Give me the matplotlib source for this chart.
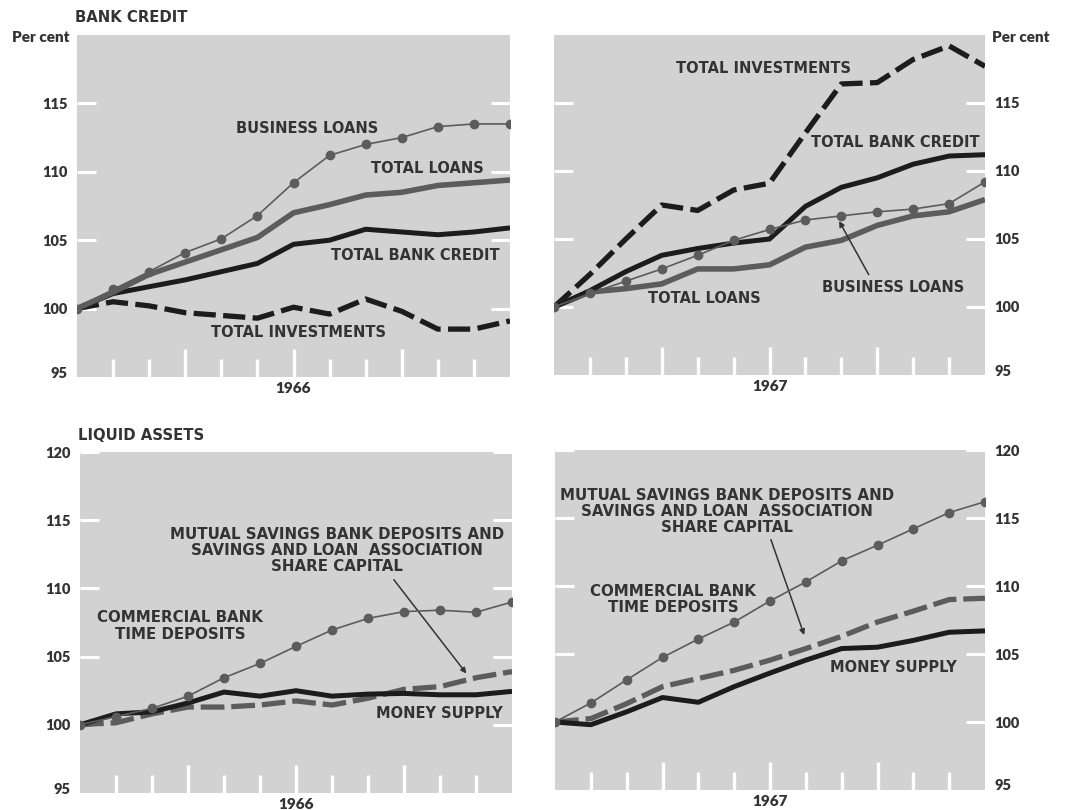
import matplotlib
matplotlib.use("Agg")
import matplotlib.pyplot as plt
import matplotlib.transforms as mtransforms
import numpy as np

plt.rcParams['font.family'] = ['Lato', 'DejaVu Sans']

# months: Dec of prior year = 0 ... Dec = 12
months = list(range(13))

# BANK CREDIT, 1966
bl_66 = [100, 101.4, 102.7, 104.1, 105.1, 106.8, 109.2, 111.2, 112.0, 112.5, 113.3, 113.5, 113.5]
tl_66 = [100, 101.2, 102.5, 103.4, 104.3, 105.2, 107.0, 107.6, 108.3, 108.5, 109.0, 109.2, 109.4]
tbc_66 = [100, 101.1, 101.6, 102.1, 102.7, 103.3, 104.7, 105.0, 105.8, 105.6, 105.4, 105.6, 105.9]
ti_66 = [100, 100.5, 100.2, 99.7, 99.5, 99.3, 100.1, 99.6, 100.7, 99.8, 98.5, 98.5, 99.1]

# BANK CREDIT, 1967
bl_67 = [100, 101.0, 101.9, 102.8, 103.8, 104.9, 105.7, 106.4, 106.7, 107.0, 107.2, 107.6, 109.2]
tl_67 = [100, 101.1, 101.35, 101.7, 102.8, 102.8, 103.1, 104.4, 104.9, 106.0, 106.7, 107.0, 107.9]
tbc_67 = [100, 101.2, 102.6, 103.8, 104.3, 104.7, 105.0, 107.4, 108.8, 109.5, 110.5, 111.1, 111.2]
ti_67 = [100, 102.4, 105.0, 107.5, 107.1, 108.6, 109.1, 112.8, 116.4, 116.5, 118.2, 119.2, 117.7]

# LIQUID ASSETS, 1966
cbtd_66 = [100, 100.6, 101.2, 102.1, 103.45, 104.5, 105.75, 106.95, 107.8, 108.3, 108.4, 108.25, 109.0]
ms_66 = [100, 100.8, 100.95, 101.6, 102.4, 102.1, 102.5, 102.1, 102.25, 102.3, 102.2, 102.2, 102.45]
msb_66 = [100, 100.15, 100.8, 101.3, 101.3, 101.45, 101.75, 101.45, 101.95, 102.6, 102.8, 103.45, 103.9]

# LIQUID ASSETS, 1967
cbtd_67 = [100, 101.4, 103.1, 104.75, 106.1, 107.35, 108.9, 110.3, 111.85, 113.0, 114.2, 115.4, 116.2]
ms_67 = [100, 99.8, 100.75, 101.8, 101.45, 102.6, 103.6, 104.55, 105.4, 105.5, 106.0, 106.6, 106.7]
msb_67 = [100, 100.25, 101.35, 102.6, 103.2, 103.8, 104.55, 105.4, 106.3, 107.35, 108.15, 109.0, 109.1]

PANEL = '#d2d2d2'
BLACK = '#1c1c1c'
GRAY = '#5c5c5c'
TEXT = '#333333'
LABEL_FONT = ['DejaVu Sans']

W, H = 1074, 810
fig = plt.figure(figsize=(W / 100, H / 100), dpi=100)


def make_ax(left, top, right, bottom, side, yticks):
    ax = fig.add_axes([left / W, 1 - bottom / H, (right - left) / W, (bottom - top) / H])
    ax.set_facecolor(PANEL)
    for s in ax.spines.values():
        s.set_visible(False)
    ax.set_xlim(0, 12)
    ax.set_ylim(95, 120)
    ax.set_xticks([3, 6, 9])
    ax.set_xticks([1, 2, 4, 5, 7, 8, 10, 11], minor=True)
    ax.tick_params(axis='x', which='major', direction='in', length=20, width=2.4,
                   color='white', labelbottom=False)
    ax.tick_params(axis='x', which='minor', direction='in', length=13, width=2.4,
                   color='white')
    ax.set_yticks(yticks)
    ax.set_yticklabels([str(v) for v in yticks])
    ax.tick_params(axis='y', direction='in', length=14, width=2.2, color='white',
                   left=True, right=True, labelleft=(side == 'left'),
                   labelright=(side == 'right'), pad=7, labelsize=10.5,
                   labelcolor=TEXT)
    for lab in ax.get_yticklabels():
        lab.set_fontweight('heavy')
    # hide tick at 95 and lift its label a bit
    t0 = ax.yaxis.get_major_ticks()[0]
    t0.tick1line.set_visible(False)
    t0.tick2line.set_visible(False)
    off = mtransforms.ScaledTranslation(0, 5 / 100, fig.dpi_scale_trans)
    t0.label1.set_transform(t0.label1.get_transform() + off)
    t0.label2.set_transform(t0.label2.get_transform() + off)
    return ax


def dotted(ax, y):
    ax.plot(months, y, color=GRAY, lw=1.2, marker='o', ms=6, mfc=GRAY, mec=GRAY, zorder=4)


def thick(ax, y, color, lw=3.6):
    ax.plot(months, y, color=color, lw=lw, solid_capstyle='butt', zorder=3)


def dashed(ax, y, color, dashes=(4.2, 1.4)):
    ax.plot(months, y, color=color, lw=3.8, dashes=dashes, zorder=2)


def label(ax, x, y, s, size=10.5, **kw):
    ax.text(x, y, s, ha='center', va='center', fontsize=size, fontweight='bold',
            family=LABEL_FONT, color=TEXT, linespacing=1.1, **kw)


def year(ax, s):
    ax.text(0.5, -0.015, s, transform=ax.transAxes, ha='center', va='top',
            fontsize=11, fontweight='heavy', color=TEXT)


# top left
ax1 = make_ax(77, 35, 510, 377, 'left', [95, 100, 105, 110, 115])
dashed(ax1, ti_66, BLACK)
thick(ax1, tbc_66, BLACK)
thick(ax1, tl_66, GRAY, lw=4)
dotted(ax1, bl_66)
label(ax1, 6.37, 113.15, 'BUSINESS LOANS')
label(ax1, 9.7, 110.27, 'TOTAL LOANS')
label(ax1, 9.37, 103.86, 'TOTAL BANK CREDIT')
label(ax1, 6.13, 98.25, 'TOTAL INVESTMENTS')
year(ax1, '1966')

# top right
ax2 = make_ax(554, 35, 985, 375, 'right', [95, 100, 105, 110, 115])
dashed(ax2, ti_67, BLACK)
thick(ax2, tl_67, GRAY, lw=4)
thick(ax2, tbc_67, BLACK)
dotted(ax2, bl_67)
label(ax2, 5.82, 117.54, 'TOTAL INVESTMENTS')
label(ax2, 9.5, 112.07, 'TOTAL BANK CREDIT')
label(ax2, 4.2, 100.64, 'TOTAL LOANS')
label(ax2, 9.44, 101.45, 'BUSINESS LOANS')
ax2.annotate('', xy=(7.9, 106.5), xytext=(8.8, 102.2),
             arrowprops=dict(arrowstyle='-|>', color=TEXT, lw=1.1, mutation_scale=8))
year(ax2, '1967')

# bottom left
ax3 = make_ax(80, 452, 512, 793, 'left', [95, 100, 105, 110, 115, 120])
dashed(ax3, msb_66, GRAY, dashes=(4.5, 1.3))
thick(ax3, ms_66, BLACK)
dotted(ax3, cbtd_66)
label(ax3, 7.14, 112.8, 'MUTUAL SAVINGS BANK DEPOSITS AND\nSAVINGS AND LOAN  ASSOCIATION\nSHARE CAPITAL', size=10.8)
label(ax3, 2.78, 107.25, 'COMMERCIAL BANK\nTIME DEPOSITS', size=10.8)
label(ax3, 9.97, 100.8, 'MONEY SUPPLY')
ax3.annotate('', xy=(10.78, 103.6), xytext=(8.67, 110.8),
             arrowprops=dict(arrowstyle='-|>', color=TEXT, lw=1.1, mutation_scale=8))
year(ax3, '1966')

# bottom right
ax4 = make_ax(555, 450, 985, 790, 'right', [95, 100, 105, 110, 115, 120])
dashed(ax4, msb_67, GRAY, dashes=(4.5, 1.3))
thick(ax4, ms_67, BLACK)
dotted(ax4, cbtd_67)
label(ax4, 4.8, 115.46, 'MUTUAL SAVINGS BANK DEPOSITS AND\nSAVINGS AND LOAN  ASSOCIATION\nSHARE CAPITAL', size=10.8)
label(ax4, 3.29, 109.0, 'COMMERCIAL BANK\nTIME DEPOSITS', size=10.8)
label(ax4, 9.43, 103.98, 'MONEY SUPPLY')
ax4.annotate('', xy=(6.98, 106.2), xytext=(6.0, 113.6),
             arrowprops=dict(arrowstyle='-|>', color=TEXT, lw=1.1, mutation_scale=8))
year(ax4, '1967')

# headings
fig.text(75 / W, 1 - 18 / H, 'BANK CREDIT', ha='left', va='center', fontsize=10.7,
         fontweight='bold', family=LABEL_FONT, color=TEXT)
fig.text(78 / W, 1 - 435 / H, 'LIQUID ASSETS', ha='left', va='center', fontsize=10.7,
         fontweight='bold', family=LABEL_FONT, color=TEXT)
fig.text(69 / W, 1 - 38 / H, 'Per cent', ha='right', va='center', fontsize=11,
         fontweight='heavy', color=TEXT)
fig.text(992 / W, 1 - 38 / H, 'Per cent', ha='left', va='center', fontsize=11,
         fontweight='heavy', color=TEXT)

fig.savefig('out.png', dpi=100, facecolor='white')
